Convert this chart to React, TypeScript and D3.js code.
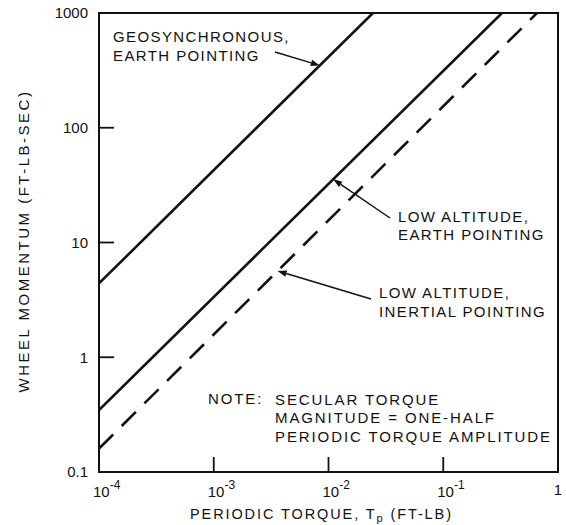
import React from 'react';
import * as d3 from 'd3';

// periodic torque (ft-lb) vs wheel momentum (ft-lb-sec)
const geoEarth = [
  { x: 1e-4, y: 4.4 },
  { x: 0.0244, y: 1000 },
];
const lowEarth = [
  { x: 1e-4, y: 0.347 },
  { x: 0.325, y: 1000 },
];
const lowInertial = [
  { x: 1e-4, y: 0.16 },
  { x: 0.656, y: 1000 },
];

const yTicks = [0.1, 1, 10, 100, 1000];
const yTickLabels = ['0.1', '1', '10', '100', '1000'];
const xTicks = [1e-4, 1e-3, 1e-2, 1e-1];
const xTickExps = ['-4', '-3', '-2', '-1'];

const W = 566;
const H = 525;
const m = { left: 99, right: 558, top: 13, bottom: 472 };
const font = '"Liberation Sans", Arial, Helvetica, sans-serif';

const x = d3.scaleLog().domain([1e-4, 1]).range([m.left, m.right]);
const y = d3.scaleLog().domain([0.1, 1000]).range([m.bottom, m.top]);

const line = d3
  .line<{ x: number; y: number }>()
  .x((d) => x(d.x))
  .y((d) => y(d.y));

// point on a (straight in log-log) line at torque t
const onLine = (pts: { x: number; y: number }[], t: number) => {
  const a = pts[0];
  const b = pts[1];
  const f = (Math.log10(t) - Math.log10(a.x)) / (Math.log10(b.x) - Math.log10(a.x));
  const ly = Math.log10(a.y) + f * (Math.log10(b.y) - Math.log10(a.y));
  return [x(t), y(Math.pow(10, ly))];
};

const Arrow = ({ from, to }: { from: number[]; to: number[] }) => {
  const ang = Math.atan2(to[1] - from[1], to[0] - from[0]);
  const len = 9;
  const wid = 3.2;
  const bx = to[0] - len * Math.cos(ang);
  const by = to[1] - len * Math.sin(ang);
  const px = -Math.sin(ang) * wid;
  const py = Math.cos(ang) * wid;
  return (
    <g>
      <line x1={from[0]} y1={from[1]} x2={bx} y2={by} stroke="#111" strokeWidth={1.5} />
      <polygon
        points={`${to[0]},${to[1]} ${bx + px},${by + py} ${bx - px},${by - py}`}
        fill="#111"
      />
    </g>
  );
};

export default function App() {
  const txt = { fontFamily: font, fontSize: 15, fill: '#111', letterSpacing: 1.4 };
  const note = { ...txt, letterSpacing: 1.9 };
  return (
    <svg
      width={W}
      height={H}
      style={{ position: 'absolute', left: 0, top: 0, background: '#fff' }}
    >
      <defs>
        <clipPath id="plot">
          <rect x={m.left} y={m.top} width={m.right - m.left} height={m.bottom - m.top} />
        </clipPath>
      </defs>

      {/* lines */}
      <g clipPath="url(#plot)" fill="none" stroke="#111" strokeWidth={2.6}>
        <path d={line(geoEarth) || ''} />
        <path d={line(lowEarth) || ''} />
        <path d={line(lowInertial) || ''} strokeDasharray="20 12" />
      </g>

      {/* frame */}
      <rect
        x={m.left}
        y={m.top}
        width={m.right - m.left}
        height={m.bottom - m.top}
        fill="none"
        stroke="#111"
        strokeWidth={2}
      />

      {/* y ticks */}
      {yTicks.map((t, i) => (
        <g key={'y' + t}>
          {i > 0 && i < yTicks.length - 1 && (
            <line x1={m.left} x2={m.left + 15} y1={y(t)} y2={y(t)} stroke="#111" strokeWidth={1.8} />
          )}
          <text
            x={88}
            y={y(t)}
            dy="0.35em"
            textAnchor="end"
            fontFamily={font}
            fontSize={15}
            fill="#111"
          >
            {yTickLabels[i]}
          </text>
        </g>
      ))}

      {/* x ticks */}
      {xTicks.map((t, i) => (
        <g key={'x' + t}>
          {i > 0 && (
            <line x1={x(t)} x2={x(t)} y1={m.bottom} y2={m.bottom - 15} stroke="#111" strokeWidth={1.8} />
          )}
          <text x={x(t) - 6} y={497} fontFamily={font} fontSize={15} fill="#111">
            10
            <tspan dy={-8} fontSize={12}>
              {xTickExps[i]}
            </tspan>
          </text>
        </g>
      ))}
      <text x={x(1)} y={495} textAnchor="middle" fontFamily={font} fontSize={15} fill="#111">
        1
      </text>

      {/* axis titles */}
      <text x={190} y={519} style={{ ...txt, fontSize: 14.5, letterSpacing: 1.9 }}>
        PERIODIC TORQUE, T
        <tspan dy={3} fontSize={11}>
          p
        </tspan>
        <tspan dy={-3}> (FT-LB)</tspan>
      </text>
      <text
        transform={`translate(29,241) rotate(-90)`}
        textAnchor="middle"
        style={{ ...txt, fontSize: 15, letterSpacing: 2.5 }}
      >
        WHEEL MOMENTUM (FT-LB-SEC)
      </text>

      {/* annotations */}
      <text x={113} y={42} style={txt}>
        GEOSYNCHRONOUS,
      </text>
      <text x={113} y={61} style={txt}>
        EARTH POINTING
      </text>
      <Arrow from={[275, 52]} to={onLine(geoEarth, 0.0084)} />

      <text x={398} y={222} style={txt}>
        LOW ALTITUDE,
      </text>
      <text x={398} y={240} style={txt}>
        EARTH POINTING
      </text>
      <Arrow from={[390, 218]} to={onLine(lowEarth, 0.011)} />

      <text x={379} y={298} style={txt}>
        LOW ALTITUDE,
      </text>
      <text x={379} y={317} style={txt}>
        INERTIAL POINTING
      </text>
      <Arrow from={[371, 299]} to={onLine(lowInertial, 0.0036)} />

      <text x={208} y={404} style={note}>
        NOTE:
      </text>
      <text x={275} y={405} style={note}>
        SECULAR TORQUE
      </text>
      <text x={275} y={423} style={note}>
        MAGNITUDE = ONE-HALF
      </text>
      <text x={275} y={442} style={note}>
        PERIODIC TORQUE AMPLITUDE
      </text>
    </svg>
  );
}
